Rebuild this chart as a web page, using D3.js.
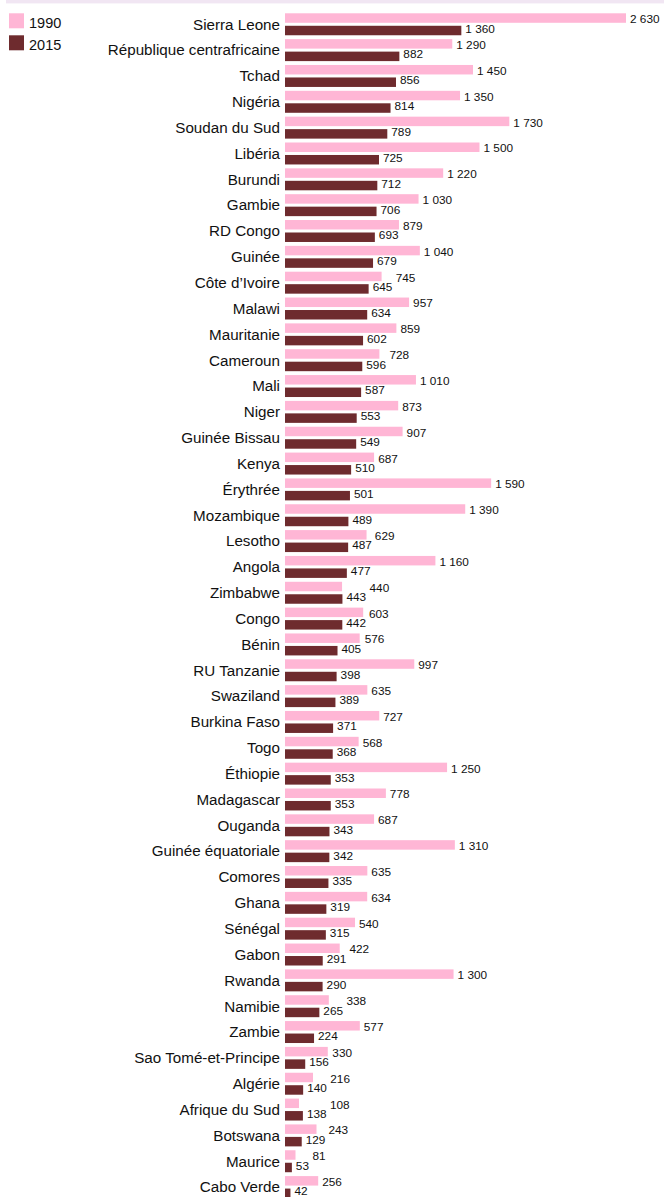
<!DOCTYPE html>
<html>
<head>
<meta charset="utf-8">
<script src="https://cdn.jsdelivr.net/npm/d3@7"></script>
<style>
  html, body { margin: 0; padding: 0; background: #fff; }
  svg { display: block; font-family: "Liberation Sans", Arial, sans-serif; }
</style>
</head>
<body>
<svg id="chart" width="664" height="1197"></svg>
<script>
const countries = ["Sierra Leone","République centrafricaine","Tchad","Nigéria","Soudan du Sud","Libéria","Burundi","Gambie","RD Congo","Guinée","Côte d’Ivoire","Malawi","Mauritanie","Cameroun","Mali","Niger","Guinée Bissau","Kenya","Érythrée","Mozambique","Lesotho","Angola","Zimbabwe","Congo","Bénin","RU Tanzanie","Swaziland","Burkina Faso","Togo","Éthiopie","Madagascar","Ouganda","Guinée équatoriale","Comores","Ghana","Sénégal","Gabon","Rwanda","Namibie","Zambie","Sao Tomé-et-Principe","Algérie","Afrique du Sud","Botswana","Maurice","Cabo Verde"];
const values1990 = [2630,1290,1450,1350,1730,1500,1220,1030,879,1040,745,957,859,728,1010,873,907,687,1590,1390,629,1160,440,603,576,997,635,727,568,1250,778,687,1310,635,634,540,422,1300,338,577,330,216,108,243,81,256];
const values2015 = [1360,882,856,814,789,725,712,706,693,679,645,634,602,596,587,553,549,510,501,489,487,477,443,442,405,398,389,371,368,353,353,343,342,335,319,315,291,290,265,224,156,140,138,129,53,42];
const seriesNames = ["1990","2015"];
const colors = ["#ffb6d5","#6e2b2e"];

const svg = d3.select("#chart");
const fmt = v => d3.format(",")(v).replace(/,/g, " ");

// top decorative band
svg.append("rect").attr("x", 6).attr("y", 0).attr("width", 658).attr("height", 3.4).attr("fill", "#f1e6f3");

const data = countries.map((c, i) => ({country: c, vals: [values1990[i], values2015[i]]}));

const x = d3.scaleLinear().domain([0, 2630]).range([285, 626]);
const y = d3.scaleBand().domain(countries).range([11.36, 1200]).paddingInner(0.15).paddingOuter(0.075);
const ys = d3.scaleBand().domain(seriesNames).range([0, y.bandwidth()]).paddingInner(0.24);

const g = svg.selectAll("g.row").data(data).join("g")
  .attr("class", "row")
  .attr("transform", d => `translate(0,${y(d.country)})`);

g.append("text")
  .attr("x", 280)
  .attr("y", y.bandwidth() / 2)
  .attr("dy", "0.35em")
  .attr("text-anchor", "end")
  .attr("font-size", 15.2)
  .attr("fill", "#111")
  .text(d => d.country);

seriesNames.forEach((s, k) => {
  g.append("rect")
    .attr("x", x(0))
    .attr("y", ys(s))
    .attr("width", d => x(d.vals[k]) - x(0))
    .attr("height", ys.bandwidth())
    .attr("fill", colors[k]);
});

// 2015 labels first, so 1990 labels can avoid them
const lab2015 = g.append("text")
  .attr("class", "v2015")
  .attr("x", d => x(d.vals[1]) + 4)
  .attr("y", ys("2015") + ys.bandwidth() / 2)
  .attr("dy", "0.18em")
  .attr("font-size", 11.8)
  .attr("fill", "#111")
  .text(d => fmt(d.vals[1]));

g.each(function(d) {
  const row = d3.select(this);
  const t15 = row.select("text.v2015").node();
  const right15 = t15.getBBox().x + t15.getBBox().width;
  let lx = x(d.vals[0]) + 4;
  if (lx < right15 + 3) lx = right15 + 3;
  row.append("text")
    .attr("x", lx)
    .attr("y", ys("1990") + ys.bandwidth() / 2)
    .attr("dy", "0.44em")
    .attr("font-size", 11.8)
    .attr("fill", "#111")
    .text(fmt(d.vals[0]));
});

// legend
const lg = svg.append("g").attr("class", "legend");
seriesNames.forEach((s, k) => {
  lg.append("rect").attr("x", 9).attr("y", 13.3 + k * 22).attr("width", 15).attr("height", 15).attr("fill", colors[k]);
  lg.append("text").attr("x", 29).attr("y", 28 + k * 22).attr("font-size", 14.5).attr("fill", "#111").text(s);
});
</script>
</body>
</html>
